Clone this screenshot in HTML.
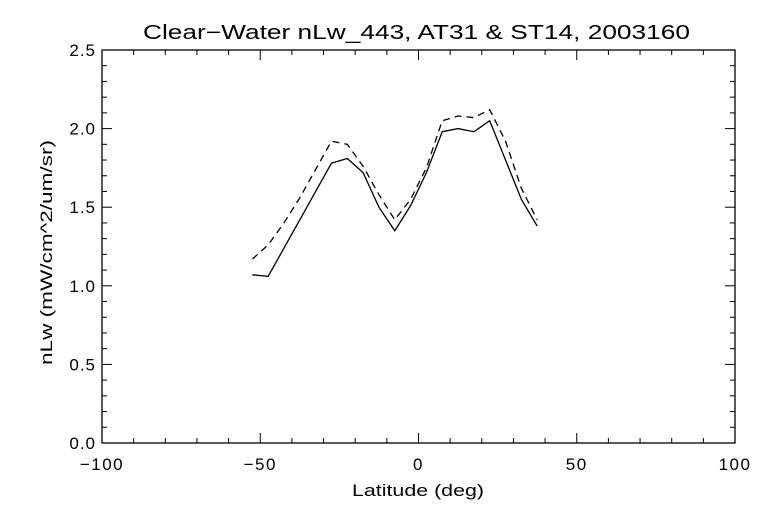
<!DOCTYPE html>
<html><head><meta charset="utf-8"><style>
body{margin:0;background:#fff}
text{font-family:"Liberation Sans","DejaVu Sans",sans-serif;fill:#000}
</style></head><body>
<svg width="768" height="512" xmlns="http://www.w3.org/2000/svg">
<rect width="768" height="512" fill="#fff"/>
<text x="143" y="39" font-size="20" textLength="547" lengthAdjust="spacingAndGlyphs">Clear−Water nLw_443, AT31 &amp; ST14, 2003160</text>
<rect x="102" y="50" width="633" height="393" fill="none" stroke="#000" stroke-width="1.3"/>
<g id="axes"></g>
<text x="352" y="496" font-size="17" textLength="132" lengthAdjust="spacingAndGlyphs">Latitude (deg)</text>
<text transform="translate(52,365) rotate(-90)" font-size="17" textLength="225" lengthAdjust="spacingAndGlyphs">nLw (mW/cm^2/um/sr)</text>
<g id="series"></g>
</svg>
<script>
const lats=[-52.5,-47.5,-42.5,-37.5,-32.5,-27.5,-22.5,-17.5,-12.5,-7.5,-2.5,2.5,7.5,12.5,17.5,22.5,27.5,32.5,37.5];
const at31=[1.07,1.06,1.24,1.42,1.60,1.78,1.81,1.72,1.50,1.35,1.51,1.72,1.98,2.00,1.98,2.05,1.80,1.55,1.38];
const st14=[1.17,1.26,1.40,1.56,1.74,1.92,1.90,1.76,1.58,1.42,1.55,1.75,2.05,2.08,2.07,2.12,1.92,1.62,1.42];
const xTicks=[-100,-50,0,50,100];
const yTicks=["0.0","0.5","1.0","1.5","2.0","2.5"];
const L=102,R=735,T=50,B=443;
const X=v=>L+(v+100)/200*(R-L);
const Y=v=>B-v/2.5*(B-T);
const NS="http://www.w3.org/2000/svg";
const ax=document.getElementById('axes');
function mk(tag,attrs,parent){const e=document.createElementNS(NS,tag);for(const k in attrs)e.setAttribute(k,attrs[k]);parent.appendChild(e);return e;}
for(let v=-100;v<=100;v+=10){
 const major=v%50===0, len=major?10:5, x=X(v);
 const t1=mk('line',{x1:x,x2:x,y1:B,y2:B-len,stroke:'#000'},ax);
 
 
 const t2=mk('line',{x1:x,x2:x,y1:T,y2:T+len,stroke:'#000'},ax);
 
 
}
xTicks.forEach(v=>{
 const t=mk('text',{x:X(v),y:470,'font-size':17,'text-anchor':'middle','letter-spacing':'1.5'},ax);
 t.textContent=v<0?'−'+Math.abs(v):String(v);
 
 
});
for(let i=0;i<=25;i++){
 const v=i/10, major=i%5===0, len=major?10:5, y=Y(v);
 const t1=mk('line',{x1:L,x2:L+len,y1:y,y2:y,stroke:'#000'},ax);
 
 
 const t2=mk('line',{x1:R,x2:R-len,y1:y,y2:y,stroke:'#000'},ax);
 
 
}
yTicks.forEach(s=>{
 const t=mk('text',{x:96,y:Y(parseFloat(s))+6,'font-size':17,'text-anchor':'end','letter-spacing':'1'},ax);
 t.textContent=s;
 
 
});
const sg=document.getElementById('series');
const p1=mk('polyline',{points:lats.map((l,i)=>X(l)+','+Y(at31[i])).join(' '),fill:'none',stroke:'#000','stroke-width':1.3},sg);


const p2=mk('polyline',{points:lats.map((l,i)=>X(l)+','+Y(st14[i])).join(' '),fill:'none',stroke:'#000','stroke-width':1.3,'stroke-dasharray':'7,5'},sg);


</script>
</body></html>
